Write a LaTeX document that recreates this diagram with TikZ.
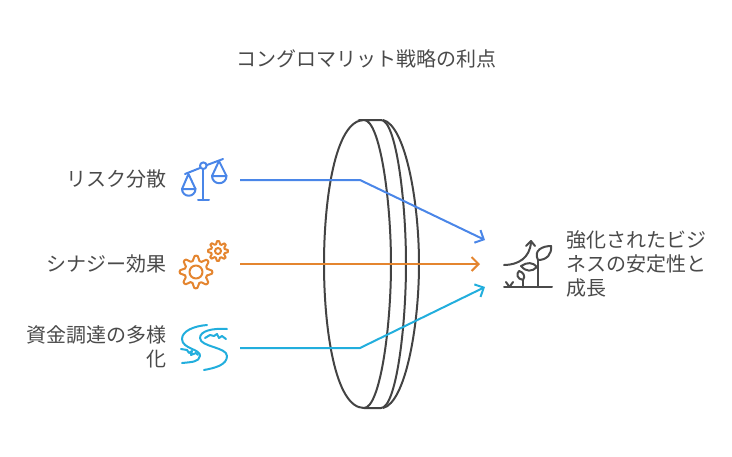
\documentclass[tikz,border=0pt]{standalone}
\usepackage{fontspec}
\setmainfont{Noto Sans CJK JP}
\usetikzlibrary{arrows.meta}
\definecolor{ink}{HTML}{4A4A4A}
\definecolor{lens}{HTML}{434343}
\definecolor{cblue}{HTML}{4A86E8}
\definecolor{corange}{HTML}{E4852F}
\definecolor{ccyan}{HTML}{22AEDD}
\tikzset{
 lab/.style={text=ink,font=\fontsize{20}{24}\selectfont,inner sep=0pt,align=right,anchor=east},
 labl/.style={text=ink,font=\fontsize{20}{24}\selectfont,inner sep=0pt,align=left,anchor=west},
 conn/.style={line width=2pt,-{Straight Barb[length=7pt,width=14pt,line width=2pt]}},
 ico/.style={line width=2pt,line cap=round,line join=round},
 lensl/.style={draw=lens,line width=2pt},
}
\begin{document}
\begin{tikzpicture}[x=1pt,y=-1pt]
\useasboundingbox (0,0) rectangle (732,456);
\node[text=ink,font=\fontsize{20}{24}\selectfont,inner sep=0pt] (title) at (366.5,59) {コングロマリット戦略の利点};
% lens
\draw[lensl] (364,120) .. controls (335,120) and (324,200) .. (324,264) .. controls (324,328) and (335,408) .. (364,408) .. controls (380,408) and (391,328) .. (391,264) .. controls (391,200) and (380,120) .. (364,120) -- (381,120) .. controls (396,120) and (406,200) .. (406,264) .. controls (406,328) and (396,408) .. (381,408) -- (364,408);
\draw[lensl] (383,120) .. controls (405,125) and (419,200) .. (419,264) .. controls (419,328) and (405,403) .. (383,408);
% labels
\node[lab] (l1) at (167,179) {リスク分散};
\node[lab] (l2) at (167,264) {シナジー効果};
\node[lab] (l3) at (167,347) {資金調達の多様\\化};
\node[labl] (r) at (566,264) {強化されたビジ\\ネスの安定性と\\成長};
% anchors
\coordinate (s1) at (240,180); \coordinate (b1) at (360,180); \coordinate (e1) at (485,240);
\coordinate (s2) at (240,264); \coordinate (e2) at (480,264);
\coordinate (s3) at (240,348); \coordinate (b3) at (360,348); \coordinate (e3) at (485,287);
\draw[conn,cblue] (s1) -- (b1) -- (e1);
\draw[conn,corange] (s2) -- (e2);
\draw[conn,ccyan] (s3) -- (b3) -- (e3);
% scales icon
\begin{scope}[ico]
\draw[cblue] (185,174) -- (200,168) (207,165) -- (223,159);
\draw[cblue] (203.3,169) -- (203.3,200);
\draw[cblue] (198,200) -- (209,200);
\draw[cblue] (203.3,165.7) circle (3.3);
\draw[cblue] (188.5,174) -- (182,189) (188.5,174) -- (195.5,189);
\draw[cblue] (182,189) -- (195.5,189) arc (0:180:6.75) -- cycle;
\draw[cblue] (219,161) -- (212,176) (219,161) -- (226.5,176);
\draw[cblue] (212,176) -- (226.5,176) arc (0:180:7.25) -- cycle;
\end{scope}
% gears
\begin{scope}[ico]
\foreach \cx/\cy/\ro/\ri/\rc in {196/272/16/11.5/6.5, 218/251/10/7/3}{
 \draw[corange] plot[smooth cycle,tension=0.45,samples at={0,...,31}] ({\cx+(mod(\x,4)<2 ? \ro : \ri)*cos(\x*11.25-5)},{\cy+(mod(\x,4)<2 ? \ro : \ri)*sin(\x*11.25-5)});
 \draw[corange] (\cx,\cy) circle (\rc);
}
\end{scope}
% river
\begin{scope}[ico]
\draw[ccyan] (207,325) .. controls (194,326) and (182,331) .. (182,339) .. controls (182,349) and (201,349) .. (200,356) .. controls (199,362) and (192,362) .. (182,363);
\draw[ccyan] (227,329) .. controls (212,328) and (200,331) .. (200,338) .. controls (200,347) and (227,347) .. (227,356) .. controls (227,365) and (215,368) .. (204,370);
\draw[ccyan] (181,349) -- (187,350) -- (189,353) -- (192,351) -- (191,355) -- (196,353) -- (198,355);
\draw[ccyan] (205,338) -- (210,335) -- (214,336) -- (217,334) -- (219,338) -- (222,336) -- (226,339);
\end{scope}
% plant
\begin{scope}[ico]
\draw[ink] (504,287) -- (552,287);
\draw[ink] (504,265) .. controls (518,265) and (530,258) .. (531,242);
\draw[ink] (526,246) -- (531,241) -- (535,246);
\draw[ink] (538,287) -- (538,260);
\draw[ink] (538,260) .. controls (533,250) and (543,246) .. (551,246) .. controls (552,254) and (547,260) .. (538,260);
\draw[ink] (537,267) .. controls (533,262) and (527,262) .. (521,266) .. controls (526,272) and (532,272) .. (537,267);
\draw[ink] (523,287) -- (523,280);
\draw[ink] (523,280) .. controls (517,279) and (516,274) .. (519,271) .. controls (523,272) and (526,276) .. (523,280);
\draw[ink] (509.5,287) -- (506,282) (509.5,287) -- (513,282);
\end{scope}
\end{tikzpicture}
\end{document}
